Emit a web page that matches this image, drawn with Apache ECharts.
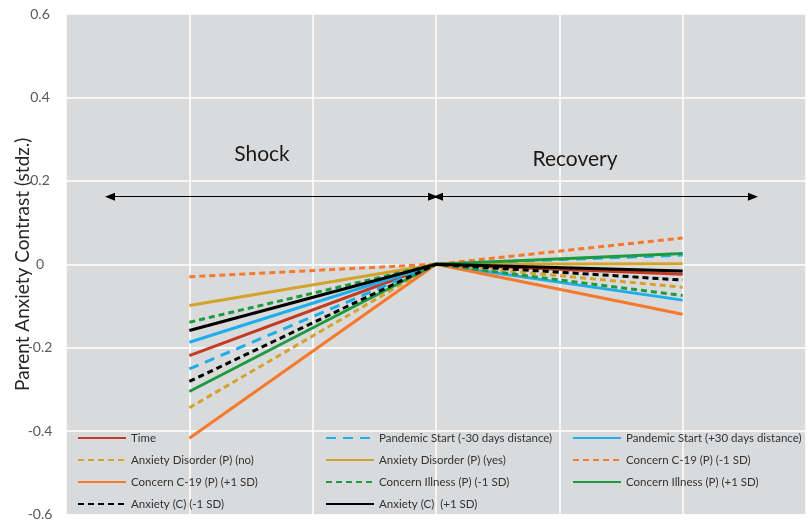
<!DOCTYPE html>
<html>
<head>
<meta charset="utf-8">
<script src="https://cdn.jsdelivr.net/npm/echarts@6/dist/echarts.min.js"></script>
<style>html,body{margin:0;padding:0;background:#fff;}#c{width:811px;height:524px;}</style>
</head>
<body>
<div id="c"></div>
<script>
// Phase positions on the x scale (before shock, pandemic point, end of recovery)
var phaseX = [1, 3, 5];
var seriesNames = [
  'Time',
  'Pandemic Start (-30 days distance)',
  'Pandemic Start (+30 days distance)',
  'Anxiety Disorder (P) (no)',
  'Anxiety Disorder (P) (yes)',
  'Concern C-19 (P) (-1 SD)',
  'Concern C-19 (P) (+1 SD)',
  'Concern Illness (P) (-1 SD)',
  'Concern Illness (P) (+1 SD)',
  'Anxiety (C) (-1 SD)',
  'Anxiety (C)  (+1 SD)'
];
var shockStart  = [-0.219, -0.251, -0.187, -0.344, -0.099, -0.030, -0.417, -0.139, -0.305, -0.281, -0.159];
var pivotValue  = [0, 0, 0, 0, 0, 0, 0, 0, 0, 0, 0];
var recoveryEnd = [-0.024, 0.022, -0.086, -0.055, 0.001, 0.063, -0.120, -0.075, 0.026, -0.038, -0.016];
var yTicks = [-0.6, -0.4, -0.2, 0, 0.2, 0.4, 0.6];

var colors = ['#C23B22', '#1EAEE8', '#1EAEE8', '#D4A32B', '#D4A32B', '#F7792B', '#F7792B', '#1E9B41', '#1E9B41', '#000000', '#000000'];
var dashes = ['solid', [10, 7], 'solid', [6, 4], 'solid', [6, 4], 'solid', [6, 4], 'solid', [6, 4], 'solid'];

var FONT = 'Lato';
var series = seriesNames.map(function (n, i) {
  return {
    name: n,
    type: 'line',
    symbol: 'none',
    silent: true,
    z: 3,
    data: [[phaseX[0], shockStart[i]], [phaseX[1], pivotValue[i]], [phaseX[2], recoveryEnd[i]]],
    lineStyle: { color: colors[i], width: 3, type: dashes[i] },
    itemStyle: { color: colors[i] }
  };
});

// annotations: arrows and phase labels
series[0].markLine = {
  silent: true,
  symbol: ['triangle', 'triangle'],
  symbolSize: [8, 10],
  label: { show: false },
  lineStyle: { color: '#000', width: 1, type: 'solid' },
  data: [
    [{ coord: [0.357, 0.162] }, { coord: [2.976, 0.162] }],
    [{ coord: [3.016, 0.162] }, { coord: [5.57, 0.162] }]
  ]
};
series[0].markPoint = {
  silent: true,
  symbol: 'rect',
  symbolSize: [1, 1],
  itemStyle: { color: 'rgba(0,0,0,0)' },
  label: { show: true, position: 'inside', fontFamily: FONT, fontSize: 21, color: '#1a1a1a' },
  data: [
    { coord: [1.589, 0.2645], value: 'Shock', label: { formatter: 'Shock' } },
    { coord: [4.127, 0.2525], value: 'Recovery', label: { formatter: 'Recovery' } }
  ]
};

function legendCol(left, names) {
  return {
    orient: 'vertical',
    left: left,
    top: 432,
    padding: 0,
    itemWidth: 48,
    itemHeight: 12,
    itemGap: 10,
    selectedMode: false,
    itemStyle: { opacity: 0 },
    textStyle: { fontFamily: FONT, fontSize: 11.5, color: '#333' },
    data: names
  };
}

var option = {
  animation: false,
  backgroundColor: '#fff',
  grid: {
    left: 66, right: 5, top: 14, bottom: 9.5,
    outerBoundsMode: 'none',
    containLabel: false,
    show: true, backgroundColor: '#D9DADC', borderWidth: 0
  },
  xAxis: {
    type: 'value', min: 0, max: 6, interval: 1,
    axisLine: { show: false }, axisTick: { show: false }, axisLabel: { show: false },
    splitLine: { show: true, lineStyle: { color: '#ffffff', width: 1.5 } }
  },
  yAxis: {
    type: 'value', min: yTicks[0], max: yTicks[yTicks.length - 1], interval: 0.2,
    axisLine: { show: false }, axisTick: { show: false },
    axisLabel: {
      margin: 26, align: 'center', fontFamily: FONT, fontSize: 14, color: '#595959',
      formatter: function (v) { var r = Math.round(v * 10) / 10; return String(r); }
    },
    splitLine: { show: true, lineStyle: { color: '#ffffff', width: 1.5 } },
    name: 'Parent Anxiety Contrast (stdz.)',
    nameLocation: 'middle',
    nameGap: 34,
    nameMoveOverlap: false,
    nameTextStyle: { fontFamily: FONT, fontSize: 19, color: '#262626' }
  },
  legend: [
    legendCol(77, [seriesNames[0], seriesNames[3], seriesNames[6], seriesNames[9]]),
    legendCol(325, [seriesNames[1], seriesNames[4], seriesNames[7], seriesNames[10]]),
    legendCol(572, [seriesNames[2], seriesNames[5], seriesNames[8]])
  ],
  series: series
};

var chart = echarts.init(document.getElementById('c'), null, { renderer: 'canvas' });
chart.setOption(option);
</script>
</body>
</html>
